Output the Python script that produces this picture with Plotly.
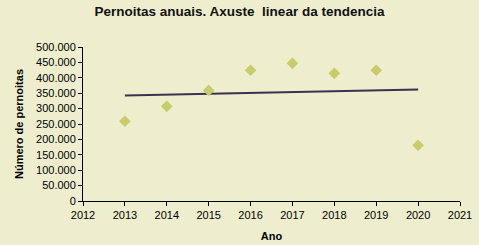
import numpy as np
import plotly.graph_objects as go

years = [2013, 2014, 2015, 2016, 2017, 2018, 2019, 2020]
pernoitas = [259000, 307500, 359000, 424500, 447000, 414500, 424500, 181000]
y_ticks = [0, 50000, 100000, 150000, 200000, 250000, 300000, 350000, 400000, 450000, 500000]
y_tick_labels = ["0", "50.000", "100.000", "150.000", "200.000", "250.000", "300.000",
                 "350.000", "400.000", "450.000", "500.000"]
x_ticks = list(range(2012, 2022))

slope, intercept = np.polyfit(years, pernoitas, 1)
trend_x = [years[0], years[-1]]
trend_y = [slope * x + intercept for x in trend_x]

bg = "#EEEECE"
fig = go.Figure()
fig.add_trace(go.Scatter(x=trend_x, y=trend_y, mode="lines",
                         line=dict(color="#3A3050", width=2), hoverinfo="skip"))
fig.add_trace(go.Scatter(x=years, y=pernoitas, mode="markers",
                         marker=dict(symbol="diamond", size=9, color="#C9CC6C",
                                     line=dict(width=0))))
fig.update_layout(
    width=479, height=245, showlegend=False,
    paper_bgcolor=bg, plot_bgcolor=bg,
    margin=dict(l=83, r=19, t=47, b=44, autoexpand=False),
    font=dict(family="Arial, Liberation Sans, sans-serif", size=11, color="#000"),
    title=dict(text="<b>Pernoitas anuais. Axuste  linear da tendencia</b>",
               x=0.5, xanchor="center", y=0.952, yanchor="middle",
               font=dict(size=13.5, color="#111")),
    xaxis=dict(range=[2012, 2021], tickvals=x_ticks, ticks="outside", ticklen=4,
               tickcolor="#000", showline=True, linecolor="#000", linewidth=1,
               showgrid=False, zeroline=False, automargin=False,
               title=dict(text="<b>Ano</b>", font=dict(size=11), standoff=12)),
    yaxis=dict(range=[0, 500000], tickvals=y_ticks, ticktext=y_tick_labels,
               ticks="outside", ticklen=4, tickcolor="#000", showline=True,
               linecolor="#000", linewidth=1, showgrid=False, zeroline=False,
               automargin=False,
               title=dict(text="<b>Número de pernoitas</b>", font=dict(size=11), standoff=10)),
)
fig.write_html("out.html")
